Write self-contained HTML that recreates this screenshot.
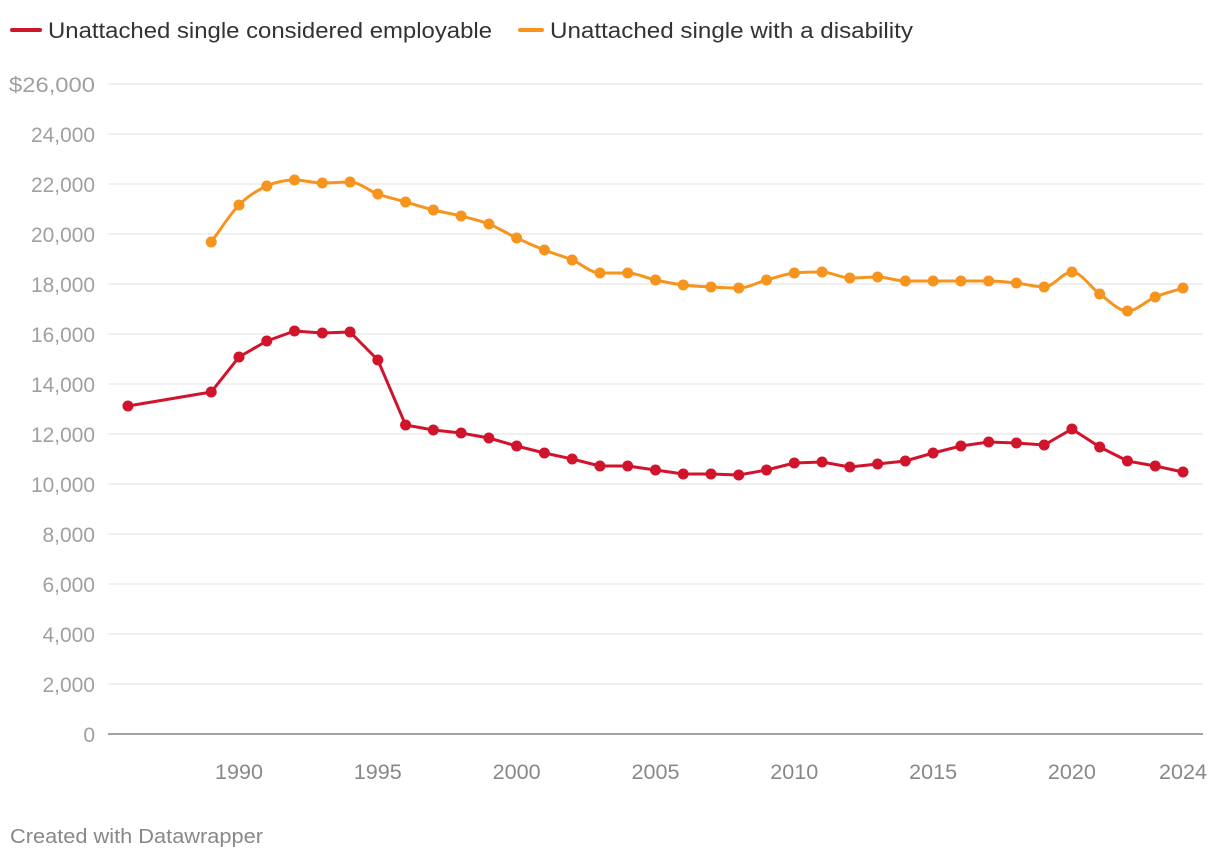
<!DOCTYPE html>
<html><head><meta charset="utf-8"><style>
body{margin:0;background:#fff;font-family:"Liberation Sans",sans-serif;}
svg{display:block}
</style></head><body>
<svg id="chart" width="1220" height="860">
<g id="legend">
<g><line x1="12" y1="30" x2="40" y2="30" stroke="#d0142c" stroke-width="4" stroke-linecap="round"/><text x="48" y="38" font-size="22" fill="#333" textLength="444" lengthAdjust="spacingAndGlyphs">Unattached single considered employable</text></g>
<g><line x1="520" y1="30" x2="542" y2="30" stroke="#f7941d" stroke-width="4" stroke-linecap="round"/><text x="550" y="38" font-size="22" fill="#333" textLength="363" lengthAdjust="spacingAndGlyphs">Unattached single with a disability</text></g>
</g>
<g id="grid"></g><g id="xaxis"></g><g id="lines"></g>
<text x="10" y="843" font-size="20" fill="#888" textLength="253" lengthAdjust="spacingAndGlyphs">Created with Datawrapper</text>
</svg>
<script>
const years=[1986,1989,1990,1991,1992,1993,1994,1995,1996,1997,1998,1999,2000,2001,2002,2003,2004,2005,2006,2007,2008,2009,2010,2011,2012,2013,2014,2015,2016,2017,2018,2019,2020,2021,2022,2023,2024];
const employable=[13120,13680,15080,15720,16120,16040,16080,14960,12360,12160,12040,11840,11520,11240,11000,10720,10720,10560,10400,10400,10360,10560,10840,10880,10680,10800,10920,11240,11520,11680,11640,11560,12200,11480,10920,10720,10480];
const disYears=[1989,1990,1991,1992,1993,1994,1995,1996,1997,1998,1999,2000,2001,2002,2003,2004,2005,2006,2007,2008,2009,2010,2011,2012,2013,2014,2015,2016,2017,2018,2019,2020,2021,2022,2023,2024];
const disability=[19680,21160,21920,22160,22040,22080,21600,21280,20960,20720,20400,19840,19360,18960,18440,18440,18160,17960,17880,17840,18160,18440,18480,18240,18280,18120,18120,18120,18120,18040,17880,18480,17600,16920,17480,17840];
const yTicks=[0,2000,4000,6000,8000,10000,12000,14000,16000,18000,20000,22000,24000,26000];
const xTicks=[1990,1995,2000,2005,2010,2015,2020,2024];
const NS="http://www.w3.org/2000/svg";
const x=v=>239+(v-1990)*(944/34);
const y=v=>734-v*0.025;
function mk(t,a,p){const e=document.createElementNS(NS,t);for(const k in a)e.setAttribute(k,a[k]);p.appendChild(e);return e;}
const grid=document.getElementById('grid');
yTicks.forEach(v=>{
 const l=mk('line',{x1:108,x2:1203,y1:y(v),y2:y(v),stroke:v===0?'#444':'#e2e2e2','stroke-width':1},grid);
 
 
 const lab=v===26000?'$26,000':v.toLocaleString('en-US');
 const t=mk('text',{x:95,y:y(v)+8,'text-anchor':'end','font-size':21,fill:'#a0a0a0'},grid);
 if(v>=10000) t.setAttribute('textLength', v===26000?86:64);
 t.setAttribute('lengthAdjust','spacingAndGlyphs');
 t.textContent=lab;
 
 
});
const xa=document.getElementById('xaxis');
xTicks.forEach(v=>{
 const t=mk('text',{x:x(v),y:779,'text-anchor':'middle','font-size':21,fill:'#888',textLength:48,lengthAdjust:'spacingAndGlyphs'},xa);
 t.textContent=v;
 
 
});
function mono(pts){
 const n=pts.length;if(n<2)return '';
 const d=[],m=[];
 for(let i=0;i<n-1;i++){d.push((pts[i+1][1]-pts[i][1])/(pts[i+1][0]-pts[i][0]));}
 m[0]=d[0];m[n-1]=d[n-2];
 for(let i=1;i<n-1;i++){m[i]=d[i-1]*d[i]<=0?0:(d[i-1]+d[i])/2;}
 for(let i=0;i<n-1;i++){if(d[i]===0){m[i]=0;m[i+1]=0;continue;}const a=m[i]/d[i],b=m[i+1]/d[i],s=a*a+b*b;if(s>9){const t=3/Math.sqrt(s);m[i]=t*a*d[i];m[i+1]=t*b*d[i];}}
 let p='M'+pts[0][0]+','+pts[0][1];
 for(let i=0;i<n-1;i++){const h=(pts[i+1][0]-pts[i][0])/3;p+=' C'+(pts[i][0]+h)+','+(pts[i][1]+m[i]*h)+' '+(pts[i+1][0]-h)+','+(pts[i+1][1]-m[i+1]*h)+' '+pts[i+1][0]+','+pts[i+1][1];}
 return p;
}
function lin(pts){return 'M'+pts.map(p=>p[0]+','+p[1]).join(' L');}
const lg=document.getElementById('lines');
function series(xs,vs,color,name,smooth){
 const pts=xs.map((v,i)=>[x(v),y(vs[i])]);
 const p=mk('path',{d:smooth?mono(pts):lin(pts),fill:'none',stroke:color,'stroke-width':3,'stroke-linejoin':'round'},lg);
 
 
 pts.forEach((q,i)=>{
  const c=mk('circle',{cx:q[0],cy:q[1],r:5.5,fill:color},lg);
  
  
 });
}
series(disYears,disability,'#f7941d','disability',true);
series(years,employable,'#d0142c','employable',false);
</script>
</body></html>
